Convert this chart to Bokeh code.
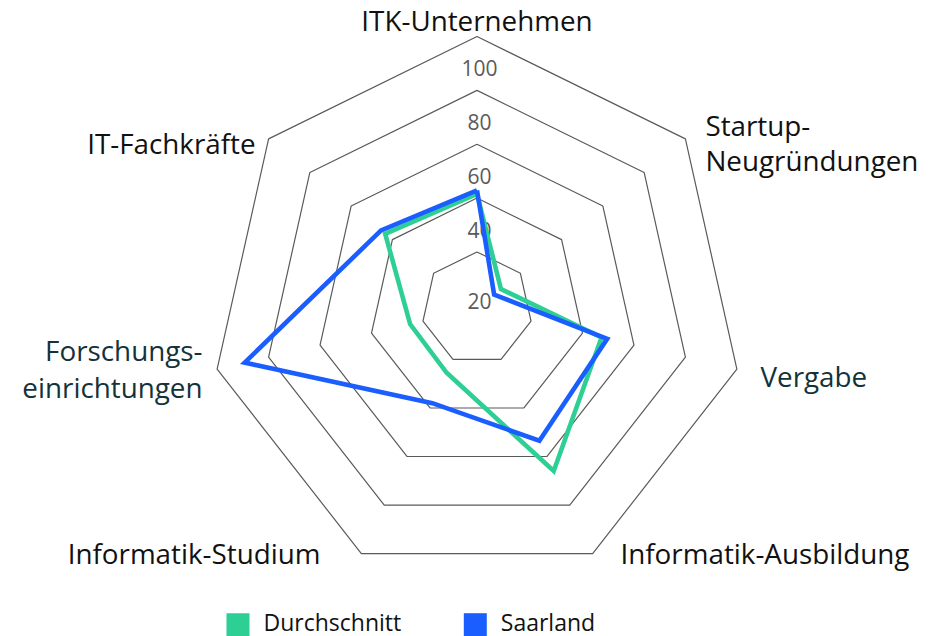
import numpy as np
from bokeh.plotting import figure
from bokeh.models import Range1d
from bokeh.core.properties import value
from bokeh.embed import file_html
from bokeh.resources import INLINE

# ---------------- data ----------------
categories = ["ITK-Unternehmen", "Startup-Neugründungen", "Vergabe",
              "Informatik-Ausbildung", "Informatik-Studium",
              "Forschungseinrichtungen", "IT-Fachkräfte"]
category_lines = [["ITK-Unternehmen"], ["Startup-", "Neugründungen"], ["Vergabe"],
                  ["Informatik-Ausbildung"], ["Informatik-Studium"],
                  ["Forschungs-", "einrichtungen"], ["IT-Fachkräfte"]]
durchschnitt = [61.6, 30.6, 67.4, 86.0, 45.5, 45.0, 63.5]
saarland = [62.9, 27.3, 69.6, 73.5, 58.0, 109.3, 65.5]
series_names = ["Durchschnitt", "Saarland"]
ring_values = [40, 60, 80, 100, 120]
tick_values = [20, 40, 60, 80, 100]
tick_labels = ["20", "40", "60", "80", "100"]

# ---------------- layout / style ----------------
W, H = 930, 636
CX, CY = 476.5, 308.0
VMIN, VMAX, RMAX = 19.0, 120.0, 272.0
SX = 0.98
GREEN = "#2dcf95"
BLUE = "#1a5eff"
GRID = "#5a5a5a"
FONT = "Open Sans"
LABEL_SHIFT = -12
n = len(categories)
theta = np.pi / 2 - np.arange(n) * 2 * np.pi / n


def pos(v, k):
    r = (v - VMIN) / (VMAX - VMIN) * RMAX
    return CX + SX * r * np.cos(theta[k]), CY - r * np.sin(theta[k])


p = figure(width=W, height=H, x_range=Range1d(0, W), y_range=Range1d(H, 0),
           output_backend="svg", toolbar_location=None, min_border=0)
p.axis.visible = False
p.grid.visible = False
p.outline_line_color = None
p.background_fill_color = "white"
p.border_fill_color = "white"

# rings
xs_r, ys_r = [], []
for rv in ring_values:
    pts = [pos(rv, k) for k in range(n)] + [pos(rv, 0)]
    xs_r.append([a for a, b in pts])
    ys_r.append([b for a, b in pts])
p.multi_line(xs_r, ys_r, line_color=GRID, line_width=1.2)

# tick labels
for tv, tl in zip(tick_values, tick_labels):
    x, y = pos(tv, 0)
    off = -5 if tv <= VMIN + 2 else -22
    p.text(x=[x + 2.5], y=[y + off], text=[tl], text_font=value(FONT),
           text_font_size="21px", text_color="#5a5a5a",
           text_align="center", text_baseline="alphabetic")

# series
for vals, col in ((durchschnitt, GREEN), (saarland, BLUE)):
    pts = [pos(v, k) for k, v in enumerate(vals)]
    pts.append(pts[0])
    p.line([a for a, b in pts], [b for a, b in pts], line_color=col,
           line_width=4.6, line_join="miter")

# category labels: (align, dx, dy per line)
label_layout = [
    ("center", 0, [-4.3]),
    ("left", 20, [-1.7, 33.3]),
    ("left", 23.6, [18.5]),
    ("left", 27.8, [11.5]),
    ("right", -40.8, [11.5]),
    ("right", -14.6, [-6.8, 29.8]),
    ("right", -13, [15.6]),
]
label_colors = ["#111111", "#111111", "#13323a", "#111111", "#111111", "#13323a", "#111111"]
for k, lines in enumerate(category_lines):
    vx, vy = pos(VMAX, k)
    align, dx, dys = label_layout[k]
    for line, dy in zip(lines, dys):
        p.text(x=[vx + dx], y=[vy + dy + LABEL_SHIFT], text=[line], text_font=value(FONT),
               text_font_size="27.8px", text_color=label_colors[k],
               text_align=align, text_baseline="alphabetic")

# legend
leg_x = [226, 463.3]
for name, col, lx in zip(series_names, (GREEN, BLUE), leg_x):
    p.quad(left=[lx], right=[lx + 23], top=[612.7], bottom=[635.7],
           fill_color=col, line_color=None)
    p.text(x=[lx + 37], y=[621], text=[name], text_font=value(FONT),
           text_font_size="23px", text_color="#111111",
           text_align="left", text_baseline="alphabetic")

open("out.html", "w").write(file_html(p, INLINE))
